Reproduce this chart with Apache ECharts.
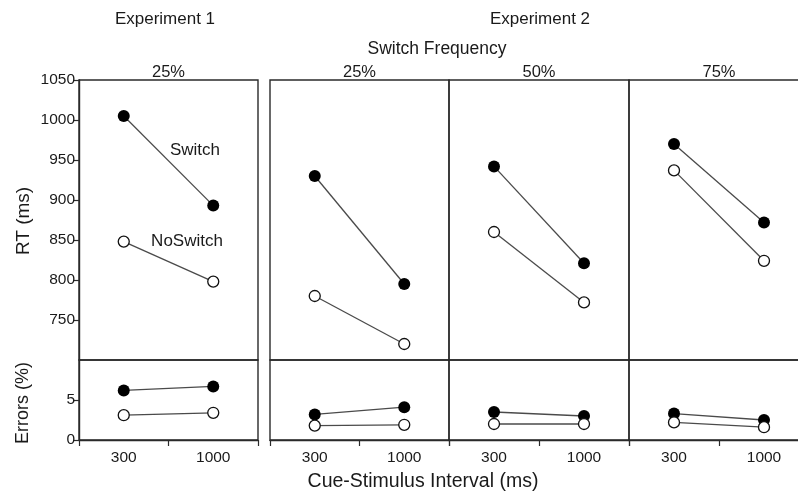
<!DOCTYPE html>
<html><head><meta charset="utf-8">
<script src="https://cdn.jsdelivr.net/npm/echarts@6/dist/echarts.min.js"></script>
<style>html,body{margin:0;padding:0;background:#fff}#c{width:798px;height:497px}</style>
</head><body><div id="c"></div>
<script>
const categories = ['300', '1000'];
const panelLabels = ['25%', '25%', '50%', '75%'];
const rtSwitch = [[1005, 893], [930, 795], [942, 821], [970, 872]];
const rtNoSwitch = [[848, 798], [780, 720], [860, 772], [937, 824]];
const errSwitch = [[6.2, 6.7], [3.2, 4.1], [3.5, 3.0], [3.3, 2.5]];
const errNoSwitch = [[3.1, 3.4], [1.8, 1.9], [2.0, 2.0], [2.2, 1.6]];
const rtTicks = [700, 1050, 50];
const errTicks = [0, 10, 5];

const FONT = 'Liberation Sans, Arial, Helvetica, sans-serif';
const TXT = '#1a1a1a';
const panelLeft = [79, 270, 449, 629];
const panelWidth = [179, 179, 180, 180];
const rtTop = 80, rtH = 280, errTop = 360, errH = 80;

const grids = [], xAxes = [], yAxes = [], series = [];
panelLeft.forEach((l, i) => {
  const gbase = {left: l, width: panelWidth[i], show: true, borderColor: '#2a2a2a', borderWidth: 1.4,
    backgroundColor: 'transparent', containLabel: false, outerBoundsMode: 'none'};
  grids.push(Object.assign({top: rtTop, height: rtH}, gbase));
  grids.push(Object.assign({top: errTop, height: errH}, gbase));
  const gRT = 2 * i, gE = 2 * i + 1;
  xAxes.push({type: 'category', gridIndex: gRT, data: categories, boundaryGap: true, show: false});
  xAxes.push({type: 'category', gridIndex: gE, data: categories, boundaryGap: true,
    axisLine: {show: true, lineStyle: {color: '#2a2a2a', width: 1.4}},
    axisTick: {show: true, length: 6, lineStyle: {color: '#2a2a2a', width: 1.2}},
    axisLabel: {color: TXT, fontFamily: FONT, fontSize: 15.5, margin: 10}});
  const first = i === 0;
  yAxes.push({type: 'value', gridIndex: gRT, min: rtTicks[0], max: rtTicks[1], interval: rtTicks[2],
    show: first, splitLine: {show: false},
    axisLine: {show: first, lineStyle: {color: '#2a2a2a', width: 1.4}},
    axisTick: {show: first, length: 6, lineStyle: {color: '#2a2a2a', width: 1.2}},
    axisLabel: {show: first, showMinLabel: false, color: TXT, fontFamily: FONT, fontSize: 15.5, margin: 4,
      formatter: v => String(v)}});
  yAxes.push({type: 'value', gridIndex: gE, min: errTicks[0], max: errTicks[1], interval: errTicks[2],
    show: first, splitLine: {show: false},
    axisLine: {show: first, lineStyle: {color: '#2a2a2a', width: 1.4}},
    axisTick: {show: first, length: 6, lineStyle: {color: '#2a2a2a', width: 1.2}},
    axisLabel: {show: first, showMaxLabel: false, color: TXT, fontFamily: FONT, fontSize: 15.5, margin: 4,
      formatter: v => String(v)}});
  const sw = {symbol: 'circle', symbolSize: 12, itemStyle: {color: '#000', borderColor: '#000', borderWidth: 0}};
  const ns = {symbol: 'circle', symbolSize: 11, itemStyle: {color: '#fff', borderColor: '#111', borderWidth: 1.3}};
  const ln = {color: '#4a4a4a', width: 1.3};
  series.push(Object.assign({type: 'line', xAxisIndex: gRT, yAxisIndex: gRT, data: rtSwitch[i], lineStyle: ln, animation: false, z: 3}, sw));
  series.push(Object.assign({type: 'line', xAxisIndex: gRT, yAxisIndex: gRT, data: rtNoSwitch[i], lineStyle: ln, animation: false, z: 3}, ns));
  series.push(Object.assign({type: 'line', xAxisIndex: gE, yAxisIndex: gE, data: errSwitch[i], lineStyle: ln, animation: false, z: 3}, sw));
  series.push(Object.assign({type: 'line', xAxisIndex: gE, yAxisIndex: gE, data: errNoSwitch[i], lineStyle: ln, animation: false, z: 3}, ns));
});

function txt(x, y, s, size, rot) {
  return {type: 'text', x: x, y: y, rotation: rot || 0, silent: true,
    style: {text: s, fill: TXT, font: size + 'px ' + FONT, textAlign: 'center', textVerticalAlign: 'middle'}};
}
const graphics = [
  txt(165, 19, 'Experiment 1', 17),
  txt(540, 19, 'Experiment 2', 17),
  txt(437, 49, 'Switch Frequency', 17.5),
  txt(195, 150, 'Switch', 17),
  txt(187, 241, 'NoSwitch', 17),
  txt(24, 221, 'RT (ms)', 19, Math.PI / 2),
  txt(23, 403, 'Errors (%)', 18, Math.PI / 2),
  txt(423, 482, 'Cue-Stimulus Interval (ms)', 19.5)
];
panelLeft.forEach((l, i) => graphics.push(txt(l + panelWidth[i] / 2, 72, panelLabels[i], 16.5)));

const chart = echarts.init(document.getElementById('c'), null, {renderer: 'canvas'});
chart.setOption({
  animation: false,
  backgroundColor: '#fff',
  grid: grids, xAxis: xAxes, yAxis: yAxes, series: series,
  graphic: graphics
});
</script></body></html>
